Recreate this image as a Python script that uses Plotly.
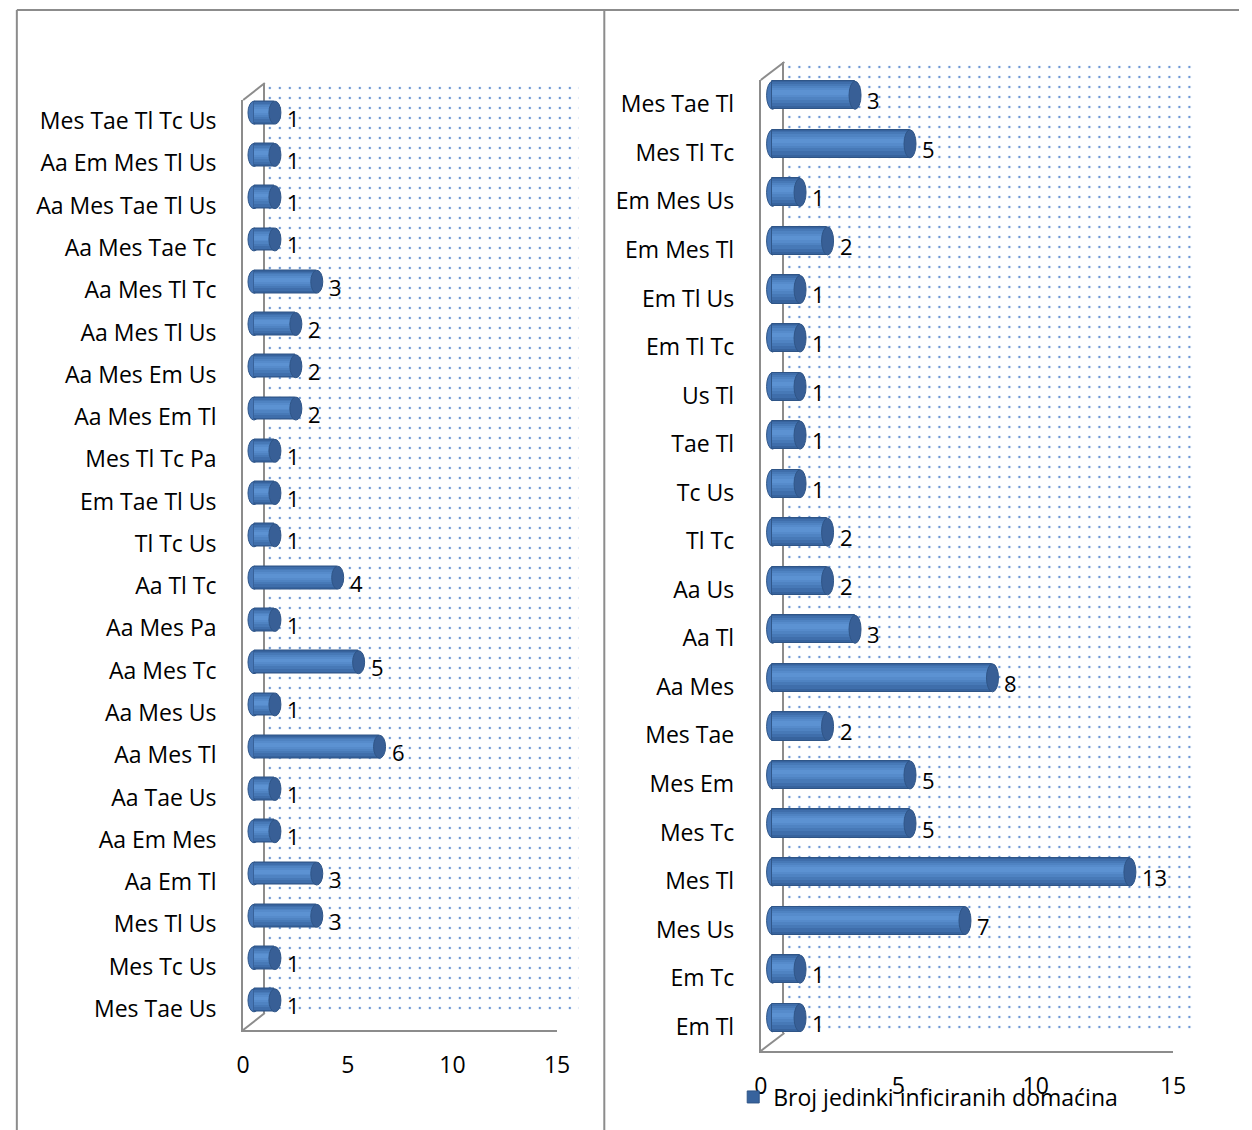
import plotly.graph_objects as go

# ---- data -------------------------------------------------------------
left_cats = ["Mes Tae Tl Tc Us", "Aa Em Mes Tl Us", "Aa Mes Tae Tl Us", "Aa Mes Tae Tc",
             "Aa Mes Tl Tc", "Aa Mes Tl Us", "Aa Mes Em Us", "Aa Mes Em Tl",
             "Mes Tl Tc Pa", "Em Tae Tl Us", "Tl Tc Us", "Aa Tl Tc", "Aa Mes Pa",
             "Aa Mes Tc", "Aa Mes Us", "Aa Mes Tl", "Aa Tae Us", "Aa Em Mes",
             "Aa Em Tl", "Mes Tl Us", "Mes Tc Us", "Mes Tae Us"]
left_vals = [1, 1, 1, 1, 3, 2, 2, 2, 1, 1, 1, 4, 1, 5, 1, 6, 1, 1, 3, 3, 1, 1]

right_cats = ["Mes Tae Tl", "Mes Tl Tc", "Em Mes Us", "Em Mes Tl", "Em Tl Us", "Em Tl Tc",
              "Us Tl", "Tae Tl", "Tc Us", "Tl Tc", "Aa Us", "Aa Tl", "Aa Mes", "Mes Tae",
              "Mes Em", "Mes Tc", "Mes Tl", "Mes Us", "Em Tc", "Em Tl"]
right_vals = [3, 5, 1, 2, 1, 1, 1, 1, 1, 2, 2, 3, 8, 2, 5, 5, 13, 7, 1, 1]

x_ticks = [0, 5, 10, 15]
x_max = 15
series_name = "Broj jedinki inficiranih domaćina"

# ---- styling ----------------------------------------------------------
W, H = 1252, 1130
FONT = "Open Sans"
TXT = 23          # category, tick and legend text
VAL = 22          # value labels next to the bars
GRID = "#8c8c8c"
BAR_EDGE = "#2f5587"
CAP = "#385f96"
START = "#4777b6"
DOTS = "#6a97d4"
# cylinder shading: (relative thickness, colour, upward shift), outermost first
SHADES = [(1.00, "#37639d", 0.00),
          (0.86, "#3f6eab", 0.04),
          (0.68, "#4779b7", 0.07),
          (0.50, "#4f83c2", 0.09),
          (0.32, "#568bcb", 0.10),
          (0.16, "#5c92d2", 0.10)]


def dom_x(a, b):
    return [a / W, b / W]


def dom_y(top, bottom):
    return [1 - bottom / H, 1 - top / H]


fig = go.Figure()
layout_axes = {}
shapes = []
annotations = []


def panel(ids, cats, vals, fx0, fx1, ftop, fbot, dx, dy, frac, bar_px, legend):
    """Draw one pseudo-3D panel: back wall, bars in the middle plane, front axes."""
    back, mid, front = ids
    n = len(cats)
    cat_range = [n - 0.5, -0.5]
    ppu = (fx1 - fx0) / x_max        # pixels per value unit
    lead = 0.6                        # room left of zero for the rounded bar start

    def ax_pair(i, x0, x1, top, bot):
        xs = "" if i == 1 else str(i)
        return ("xaxis" + xs, "yaxis" + xs, "x" + xs, "y" + xs,
                dom_x(x0, x1), dom_y(top, bot))

    # back wall (dotted)
    bxa, bya, bx, by, bdx, bdy = ax_pair(back, fx0 + dx, fx1 + dx, ftop - dy, fbot - dy)
    layout_axes[bxa] = dict(domain=bdx, range=[0, x_max], anchor=by, showgrid=False,
                            zeroline=False, showticklabels=False, showline=False)
    layout_axes[bya] = dict(domain=bdy, range=[0, 1], anchor=bx, showgrid=False,
                            zeroline=False, showticklabels=False, showline=True,
                            linecolor=GRID, linewidth=2)
    fig.add_trace(go.Bar(x=[x_max], y=[0.5], width=[1], orientation="h", xaxis=bx, yaxis=by,
                         marker=dict(color="white", line=dict(width=0),
                                     pattern=dict(shape=".", fgcolor=DOTS, bgcolor="white",
                                                  size=10, solidity=0.045, fillmode="replace")),
                         showlegend=False, hoverinfo="skip"))

    # bars in the middle plane
    mxa, mya, mx, my, mdx, mdy = ax_pair(mid, fx0 + dx / 2 - lead * ppu, fx1 + dx / 2,
                                         ftop - dy / 2, fbot - dy / 2)
    layout_axes[mxa] = dict(domain=mdx, range=[-lead, x_max], anchor=my, showgrid=False,
                            zeroline=False, showticklabels=False, showline=False)
    layout_axes[mya] = dict(domain=mdy, range=cat_range, anchor=mx, type="category",
                            categoryorder="array", categoryarray=cats, showgrid=False,
                            zeroline=False, showticklabels=False, showline=False)
    for c in cats:
        # rounded start of the cylinder
        shapes.append(dict(type="circle", xref=mx, yref=my, xsizemode="pixel",
                           ysizemode="pixel", xanchor=0, yanchor=c, x0=-6, x1=6,
                           y0=-bar_px / 2, y1=bar_px / 2, fillcolor=START,
                           line=dict(color=BAR_EDGE, width=1), layer="below"))
    for k, (rel, col, up) in enumerate(SHADES):
        w = frac * rel
        fig.add_trace(go.Bar(
            x=vals, y=cats, orientation="h", xaxis=mx, yaxis=my,
            width=w, offset=-w / 2 - frac * up,
            marker=dict(color=col, line=dict(color=BAR_EDGE, width=1 if k == 0 else 0)),
            name=series_name, showlegend=(legend and k == 0), hoverinfo="skip"))
    for c, v in zip(cats, vals):
        # end cap
        shapes.append(dict(type="circle", xref=mx, yref=my, xsizemode="pixel",
                           ysizemode="pixel", xanchor=v, yanchor=c, x0=-6, x1=6,
                           y0=-bar_px / 2, y1=bar_px / 2, fillcolor=CAP,
                           line=dict(color=BAR_EDGE, width=1), layer="above"))
        annotations.append(dict(x=v, y=c, xref=mx, yref=my, text=str(v), showarrow=False,
                                xanchor="left", yanchor="middle", xshift=10, yshift=-5,
                                font=dict(family=FONT, size=VAL, color="black")))

    # front plane: value axis ticks and category labels
    fxa, fya, fx, fy, fdx, fdy = ax_pair(front, fx0, fx1, ftop, fbot)
    layout_axes[fxa] = dict(domain=fdx, range=[0, x_max], anchor=fy, tickvals=x_ticks,
                            ticks="", showgrid=False, zeroline=False, showline=True,
                            linecolor=GRID, linewidth=2, ticklabelstandoff=13,
                            tickfont=dict(family=FONT, size=TXT, color="black"))
    layout_axes[fya] = dict(domain=fdy, range=cat_range, anchor=fx, type="category",
                            categoryorder="array", categoryarray=cats, ticks="",
                            showgrid=False, zeroline=False, showline=True, linecolor=GRID,
                            linewidth=2, ticklabelstandoff=20,
                            tickfont=dict(family=FONT, size=TXT, color="black"))
    fig.add_trace(go.Scatter(x=vals, y=cats, xaxis=fx, yaxis=fy, mode="markers",
                             marker=dict(opacity=0), showlegend=False, hoverinfo="skip"))

    # depth edges joining front and back planes
    for yy in (ftop, fbot):
        shapes.append(dict(type="line", xref="paper", yref="paper",
                           x0=fx0 / W, y0=1 - yy / H, x1=(fx0 + dx) / W, y1=1 - (yy - dy) / H,
                           line=dict(color=GRID, width=2)))


panel((1, 2, 3), left_cats, left_vals, 240, 559, 100, 1030, 22, 17, 0.54, 23, True)
panel((4, 5, 6), right_cats, right_vals, 766, 1185, 80, 1051, 24, 18, 0.58, 28, False)

# outer frame
for x0, y0, x1, y1 in [(10, 10, 1252, 10), (10, 10, 10, 1130), (607, 10, 607, 1130)]:
    shapes.append(dict(type="line", xref="paper", yref="paper", x0=x0 / W, y0=1 - y0 / H,
                       x1=x1 / W, y1=1 - y1 / H, line=dict(color=GRID, width=2)))

fig.update_layout(
    width=W, height=H, autosize=False,
    margin=dict(l=0, r=0, t=0, b=0),
    paper_bgcolor="white", plot_bgcolor="rgba(0,0,0,0)",
    barmode="overlay", bargap=0,
    font=dict(family=FONT, size=TXT, color="black"),
    showlegend=True,
    legend=dict(x=738 / W, y=1 - 1097 / H, xanchor="left", yanchor="middle",
                bgcolor="rgba(0,0,0,0)", font=dict(family=FONT, size=TXT, color="black"),
                itemwidth=30),
    shapes=shapes, annotations=annotations,
    **layout_axes,
)

fig.write_html("out.html")
